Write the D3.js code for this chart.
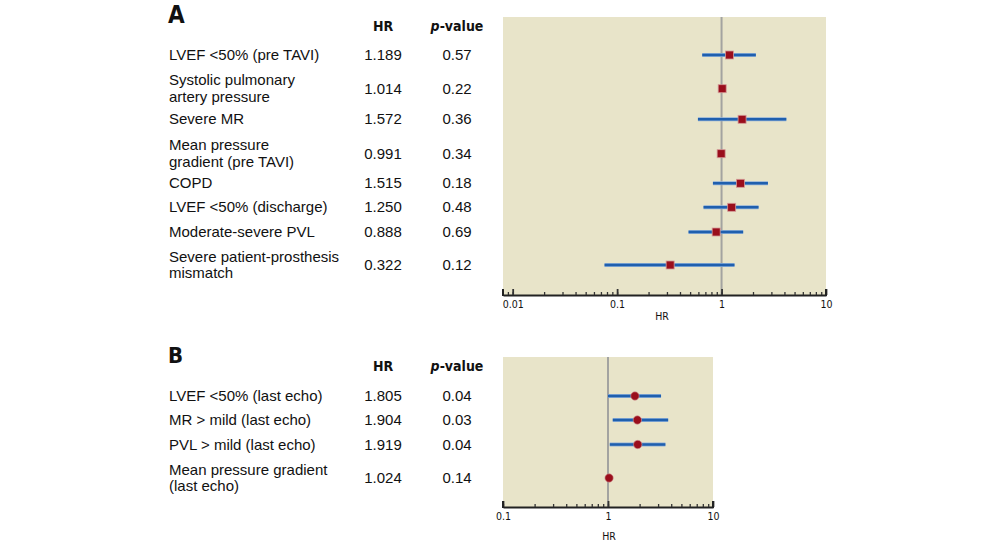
<!DOCTYPE html>
<html><head><meta charset="utf-8">
<script src="https://cdn.jsdelivr.net/npm/d3@7"></script>
<style>
body{margin:0;background:#fff;}
svg{display:block;}
.lbl{font-family:"Liberation Sans",Arial,sans-serif;font-size:15px;fill:#111;}
.hdr{font-family:"Liberation Sans Narrow","DejaVu Sans Condensed",sans-serif;font-weight:bold;font-size:14px;fill:#111;}
.panel{font-family:"Liberation Sans Narrow","DejaVu Sans Condensed",sans-serif;font-weight:bold;fill:#111;}
.tick{font-family:"DejaVu Sans Condensed","Liberation Sans Narrow",sans-serif;font-size:10.5px;fill:#111;}
</style></head>
<body>
<svg id="c" width="999" height="544"></svg>
<script>
// Panel A data
const labelsA = [["LVEF <50% (pre TAVI)"],["Systolic pulmonary","artery pressure"],["Severe MR"],["Mean pressure","gradient (pre TAVI)"],["COPD"],["LVEF <50% (discharge)"],["Moderate-severe PVL"],["Severe patient-prosthesis","mismatch"]];
const hrA = [1.189,1.014,1.572,0.991,1.515,1.250,0.888,0.322];
const pA = ["0.57","0.22","0.36","0.34","0.18","0.48","0.69","0.12"];
const loA = [0.653,0.99,0.594,0.97,0.827,0.672,0.483,0.0758];
const hiA = [2.13,1.04,4.17,1.01,2.78,2.26,1.61,1.33];
const hrTextA = ["1.189","1.014","1.572","0.991","1.515","1.250","0.888","0.322"];
const rowYA = [55,88.7,119.3,153.7,183.3,207.3,232,265];
const ticksA = [0.01,0.1,1,10];
const tickLabelsA = ["0.01","0.1","1","10"];

// Panel B data
const labelsB = [["LVEF <50% (last echo)"],["MR > mild (last echo)"],["PVL > mild (last echo)"],["Mean pressure gradient","(last echo)"]];
const hrB = [1.805,1.904,1.919,1.024];
const hrTextB = ["1.805","1.904","1.919","1.024"];
const pB = ["0.04","0.03","0.04","0.14"];
const loB = [1.0,1.11,1.04,1.0];
const hiB = [3.2,3.74,3.52,1.05];
const rowYB = [396,420,444.5,478];
const ticksB = [0.1,1,10];
const tickLabelsB = ["0.1","1","10"];

const svg = d3.select("#c");

function panel(cfg){
  const g = svg.append("g");
  g.append("text").attr("class","panel").attr("x",168).attr("y",cfg.titleY).attr("font-size",cfg.titleSize).text(cfg.title);
  g.append("text").attr("class","hdr").attr("x",383).attr("y",cfg.hdrY).attr("text-anchor","middle").text("HR");
  const ph = g.append("text").attr("class","hdr").attr("x",457).attr("y",cfg.hdrY).attr("text-anchor","middle");
  ph.append("tspan").attr("font-style","italic").text("p");
  ph.append("tspan").text("-value");

  const x = d3.scaleLog().domain(cfg.domain).range([cfg.x0,cfg.x1]);
  const y = d3.scaleOrdinal().domain(d3.range(cfg.labels.length)).range(cfg.rowY);

  cfg.labels.forEach((lines,i)=>{
    const n = lines.length;
    lines.forEach((s,j)=>{
      g.append("text").attr("class","lbl").attr("x",169)
        .attr("y", y(i) + (j-(n-1)/2)*16.5 + 5).text(s);
    });
    g.append("text").attr("class","lbl").attr("x",383).attr("y",y(i)+5).attr("text-anchor","middle").text(cfg.hrText[i]);
    g.append("text").attr("class","lbl").attr("x",457).attr("y",y(i)+5).attr("text-anchor","middle").text(cfg.p[i]);
  });

  g.append("rect").attr("x",cfg.x0).attr("y",cfg.top).attr("width",cfg.x1-cfg.x0).attr("height",cfg.bottom-cfg.top).attr("fill","#e8e4c9");
  g.append("line").attr("x1",x(1)).attr("x2",x(1)).attr("y1",cfg.top).attr("y2",cfg.bottom).attr("stroke","#a3a3a0").attr("stroke-width",2);

  g.selectAll(".ci").data(cfg.hr).enter().append("line")
    .attr("x1",(d,i)=>x(cfg.lo[i])).attr("x2",(d,i)=>x(cfg.hi[i]))
    .attr("y1",(d,i)=>y(i)).attr("y2",(d,i)=>y(i))
    .attr("stroke","#8fb0d8").attr("stroke-width",4);
  g.selectAll(".ci2").data(cfg.hr).enter().append("line")
    .attr("x1",(d,i)=>x(cfg.lo[i])).attr("x2",(d,i)=>x(cfg.hi[i]))
    .attr("y1",(d,i)=>y(i)).attr("y2",(d,i)=>y(i))
    .attr("stroke","#1f5fae").attr("stroke-width",2.5);

  if(cfg.shape==="square"){
    g.selectAll(".m").data(cfg.hr).enter().append("rect")
      .attr("x",d=>x(d)-4).attr("y",(d,i)=>y(i)-4).attr("width",8).attr("height",8)
      .attr("fill","#9a0e1c").attr("stroke","#d49a98").attr("stroke-width",0.8);
  } else {
    g.selectAll(".m").data(cfg.hr).enter().append("circle")
      .attr("cx",d=>x(d)).attr("cy",(d,i)=>y(i)).attr("r",4.2)
      .attr("fill","#9a0e1c").attr("stroke","#d49a98").attr("stroke-width",0.6);
  }

  const minor = [];
  const lo = Math.floor(Math.log10(cfg.domain[0])), hi = Math.ceil(Math.log10(cfg.domain[1]));
  for(let e=lo;e<hi;e++) for(let k=1;k<10;k++){ const v=k*Math.pow(10,e); if(v>=cfg.domain[0]&&v<=cfg.domain[1]) minor.push(v); }
  const axMinor = d3.axisBottom(x).tickValues(minor).tickSizeInner(-3).tickSizeOuter(0).tickFormat("");
  const ga = g.append("g").attr("transform",`translate(0,${cfg.bottom})`).call(axMinor);
  ga.select(".domain").attr("stroke","#222").attr("stroke-width",2.2);
  ga.selectAll(".tick line").attr("stroke","#333").attr("stroke-width",1.3);
  const axMajor = d3.axisBottom(x).tickValues(cfg.ticks).tickSizeInner(-6).tickSizeOuter(0).tickPadding(6)
     .tickFormat((d,i)=>cfg.tickLabels[i]);
  const gb = g.append("g").attr("transform",`translate(0,${cfg.bottom})`).call(axMajor);
  gb.select(".domain").remove();
  gb.selectAll(".tick line").attr("stroke","#333").attr("stroke-width",1.8);
  gb.selectAll(".tick text").attr("class","tick").attr("font-family",null).attr("font-size",null).attr("fill","#111");
  g.append("line").attr("x1",cfg.x0).attr("x2",cfg.x0).attr("y1",cfg.bottom-6).attr("y2",cfg.bottom+1).attr("stroke","#222").attr("stroke-width",2);
  g.append("line").attr("x1",cfg.x1).attr("x2",cfg.x1).attr("y1",cfg.bottom-6).attr("y2",cfg.bottom+1).attr("stroke","#222").attr("stroke-width",2);
  g.append("text").attr("class","tick").attr("x",cfg.hrX).attr("y",cfg.hrY).attr("text-anchor","middle").text("HR");
}

panel({title:"A",titleY:23,titleSize:24,hdrY:31,labels:labelsA,hr:hrA,hrText:hrTextA,p:pA,lo:loA,hi:hiA,rowY:rowYA,
  domain:[0.00808,10],x0:503,x1:826,top:17,bottom:295,ticks:ticksA,tickLabels:tickLabelsA,shape:"square",hrX:662,hrY:320});
panel({title:"B",titleY:363,titleSize:22,hdrY:371,labels:labelsB,hr:hrB,hrText:hrTextB,p:pB,lo:loB,hi:hiB,rowY:rowYB,
  domain:[0.1,10],x0:503,x1:713,top:357,bottom:507,ticks:ticksB,tickLabels:tickLabelsB,shape:"circle",hrX:609,hrY:540});
</script>
</body></html>
